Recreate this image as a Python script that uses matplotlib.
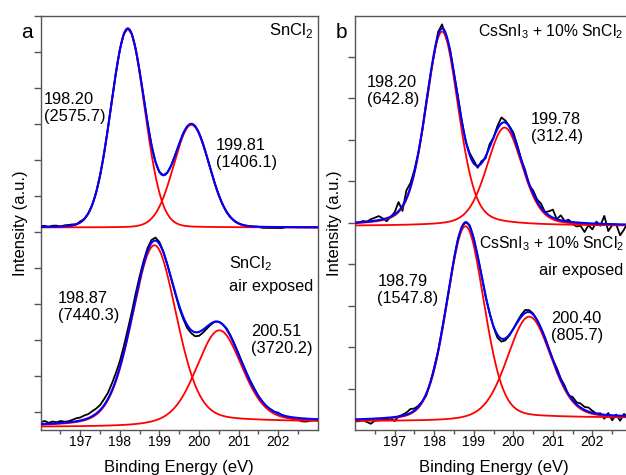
import numpy as np
import matplotlib
matplotlib.use("Agg")
import matplotlib.pyplot as plt

plt.rcParams['font.family'] = ['Liberation Sans', 'DejaVu Sans']
plt.rcParams['mathtext.fontset'] = 'custom'
plt.rcParams['mathtext.rm'] = 'Liberation Sans'

# binding energy grid of the measured points (eV)
be = np.round(np.arange(196.0, 203.01, 0.1), 1)

# fitted components: centre (eV), height, FWHM (eV)
# heights/baselines are in arbitrary units (pixel scale of the original)
a_top_centres = [198.20, 199.81]
a_top_heights = [198.4, 102.7]
a_top_fwhm = [1.00, 1.06]
a_top_eta = 0.05
a_top_base = 202.5
a_top_step = 0.0

a_bot_centres = [198.87, 200.51]
a_bot_heights = [180.0, 92.6]
a_bot_fwhm = [1.33, 1.36]
a_bot_eta = 0.25
a_bot_base = 3.0
a_bot_step = 5.0

b_top_centres = [198.20, 199.78]
b_top_heights = [194.4, 98.4]
b_top_fwhm = [0.98, 1.07]
b_top_eta = 0.3
b_top_base = 204.0
b_top_step = 0.0

b_bot_centres = [198.79, 200.40]
b_bot_heights = [194.0, 102.0]
b_bot_fwhm = [1.11, 1.30]
b_bot_eta = 0.2
b_bot_base = 8.7
b_bot_step = 3.3

# measured data minus fit (same units), one value per point of `be`
a_top_resid = [1, 1, 0, 1, 1, 0, 1, 1, 1, 0, 1, 0, 0, 0, 0, 0, 0, 0, 0, 0,
               0, 0, 0, 0, 0, 0, 0, 0, 0, 0, 0, 0, 0, 0, 0, 0, 0, 0, 0, 0,
               0, 0, 0, 0, 0, 0, 0, 0, 0, 0, 0, 0, 0, 0, 0, 0, -1, -1, -1, -1,
               -1, -1, 0, 0, 0, 0, 0, 0, 0, 0, 0]
a_bot_resid = [2, 3, 1, 2, 1, 2, 1, 1, 2, 3, 3, 4, 4, 5, 5, 5, 6, 6, 7, 7,
               6, 6, 6, 5, 5, 4, 3, 3, 3, 3, 2, 1, 0, -1, -1, -2, -2, -3, -3, -4,
               -4, -3, -2, -1, 0, 0, 0, 1, 1, 1, 1, 1, 1, 1, 1, 0, 0, -1, 0, 0,
               1, 0, -1, -1, -2, -2, -3, -3, -2, -1, 0]
b_top_resid = [0, 0, 1, 0, 2, 3, 4, 1, -3, 0, 2, 9, -5, 8, 4, 2, 0, -1, 1, 0,
               -2, 3, 4, -3, 1, 0, 2, 0, -1, 2, 3, -2, 2, -2, 3, 0, 3, 6, 2, 1,
               3, 2, 0, 2, -2, 3, 2, 4, 0, 4, 8, 0, 5, 0, 2, -2, -4, -3, -9, -2,
               -6, 2, -2, 8, -7, -1, 0, -11, -5, 3, -4]
b_bot_resid = [-2, -2, -1, -3, -5, -2, -2, -1, -2, -1, -4, 0, 1, 2, 4, 2, 1, 0, -2, 0,
               1, 0, 1, 0, -1, 0, 1, 0, 0, 1, 0, 0, 0, -1, 0, -1, -3, -3, -2, -1,
               0, 1, 2, 3, 2, 1, 0, 0, 1, 0, 0, 2, 1, 2, -1, 3, 2, 4, 3, 4,
               2, 0, 1, -4, 2, -5, 1, -5, 2, -2, 0]

a_top_labels = ['198.20\n(2575.7)', '199.81\n(1406.1)']
a_bot_labels = ['198.87\n(7440.3)', '200.51\n(3720.2)']
b_top_labels = ['198.20\n(642.8)', '199.78\n(312.4)']
b_bot_labels = ['198.79\n(1547.8)', '200.40\n(805.7)']

W, H = 626, 475


def pv(x, c, h, w, eta):
    r = ((x - c) / w) ** 2
    return h * (eta / (1 + 4 * r) + (1 - eta) * np.exp(-4 * np.log(2) * r))


def draw_spectrum(ax, centres, heights, fwhm, eta, base, step, resid):
    xf = np.linspace(196.0, 203.0, 1401)
    comps = [pv(xf, c, h, w, eta) for c, h, w in zip(centres, heights, fwhm)]
    total = np.sum(comps, axis=0)
    cum = np.cumsum(total)
    bg = base + step * cum / cum[-1]
    fit = bg + total
    data = np.interp(be, xf, fit) + np.array(resid)
    ax.plot(be, data, color='black', lw=1.3, zorder=2)
    for c in comps:
        ax.plot(xf, bg + c, color='#ff0000', lw=1.3, zorder=3)
    ax.plot(xf, fit, color='#0000ff', lw=1.5, zorder=4)


def ftext(x, y, s, ls=1.0, **kw):
    fig.text(x / W, 1 - y / H, s, va='center', linespacing=ls, **kw)


fig = plt.figure(figsize=(6.26, 4.75), dpi=100)
ax_a = fig.add_axes([40.7 / W, 45 / H, 277 / W, 414.3 / H])
ax_b = fig.add_axes([355 / W, 45 / H, 277 / W, 414.3 / H])

draw_spectrum(ax_a, a_top_centres, a_top_heights, a_top_fwhm, a_top_eta,
              a_top_base, a_top_step, a_top_resid)
draw_spectrum(ax_a, a_bot_centres, a_bot_heights, a_bot_fwhm, a_bot_eta,
              a_bot_base, a_bot_step, a_bot_resid)
draw_spectrum(ax_b, b_top_centres, b_top_heights, b_top_fwhm, b_top_eta,
              b_top_base, b_top_step, b_top_resid)
draw_spectrum(ax_b, b_bot_centres, b_bot_heights, b_bot_fwhm, b_bot_eta,
              b_bot_base, b_bot_step, b_bot_resid)

for ax, ystep, y0 in [(ax_a, 36.0, 18.0), (ax_b, 41.5, 41.5)]:
    ax.set_xlim(196.0, 203.0)
    ax.set_ylim(0, 414.3)
    ax.set_xticks([197, 198, 199, 200, 201, 202])
    ax.set_xticks(np.arange(196.5, 203, 1.0), minor=True)
    ax.set_yticks(np.arange(y0, 414.4, ystep))
    ax.set_yticklabels([])
    ax.tick_params(axis='x', which='major', length=4, width=1, color='#555555',
                   labelsize=10, pad=-0.5)
    ax.tick_params(axis='x', which='minor', length=3, width=1, color='#555555')
    ax.tick_params(axis='y', length=5, width=1, color='#555555')
    for sp in ax.spines.values():
        sp.set_color('#555555')
        sp.set_linewidth(1.0)
    ax.set_xlabel('Binding Energy (eV)', fontsize=12, labelpad=8)
    ax.set_ylabel('Intensity (a.u.)', fontsize=12, labelpad=1)

# panel letters and sample names
ftext(21, 33, 'a', fontsize=15)
ftext(336, 33, 'b', fontsize=15)
ftext(313, 31, 'SnCl$_\\mathregular{2}$', fontsize=12, ha='right')
ftext(229, 274, 'SnCl$_\\mathregular{2}$\nair exposed', fontsize=11.7, ls=1.55)
ftext(478, 32, 'CsSnI$_\\mathregular{3}$ + 10% SnCl$_\\mathregular{2}$', fontsize=11.3)
ftext(479, 244, 'CsSnI$_\\mathregular{3}$ + 10% SnCl$_\\mathregular{2}$', fontsize=11.3)
ftext(539, 271, 'air exposed', fontsize=11.7)

# peak position / area annotations
for (x, y), s in zip([(44, 108), (216, 154), (58, 307), (251, 340),
                      (367, 91), (531, 128), (377.5, 290), (550.7, 327)],
                     a_top_labels + a_bot_labels + b_top_labels + b_bot_labels):
    ftext(x, y, s, fontsize=11.8, ls=1.16)

fig.savefig('out.png', dpi=100)
